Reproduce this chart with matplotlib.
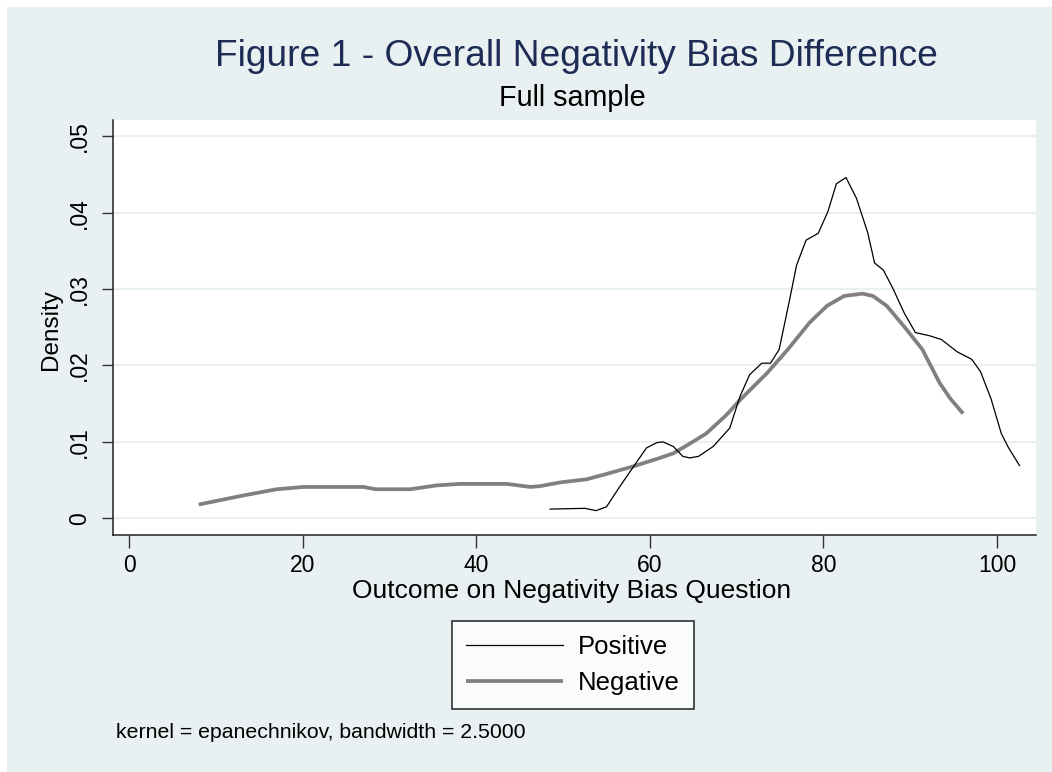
import matplotlib
matplotlib.use("Agg")
import matplotlib.pyplot as plt
from matplotlib.patches import Rectangle

# ---------------- data ----------------
pos_x = [48.5, 52.5, 53.8, 55.0, 56.5, 58.5, 59.6, 60.8, 61.5, 62.7, 63.8, 64.6,
         65.6, 67.3, 69.2, 70.4, 71.5, 72.9, 73.9, 74.9, 76.1, 76.9, 78.0, 79.4,
         80.5, 81.5, 82.6, 83.8, 85.1, 85.9, 86.9, 88.0, 89.3, 90.6, 92.2, 93.6,
         95.4, 97.1, 98.1, 99.3, 100.5, 101.3, 102.6]
pos_y = [0.0012, 0.0013, 0.0010, 0.0015, 0.0041, 0.0074, 0.0092, 0.0099, 0.0100,
         0.0094, 0.0081, 0.0079, 0.0081, 0.0094, 0.0118, 0.0160, 0.0188, 0.0203,
         0.0203, 0.0221, 0.0286, 0.0331, 0.0364, 0.0373, 0.0401, 0.0438, 0.0446,
         0.0419, 0.0374, 0.0334, 0.0325, 0.0301, 0.0269, 0.0243, 0.0239, 0.0234,
         0.0218, 0.0208, 0.0192, 0.0157, 0.0111, 0.0093, 0.0069]

neg_x = [8.0, 13.2, 17.0, 20.1, 27.0, 28.4, 32.4, 35.4, 38.1, 43.5, 46.2, 47.3,
         49.7, 52.7, 55.0, 58.1, 60.9, 62.7, 64.5, 66.5, 68.8, 70.4, 73.5, 75.9,
         78.4, 80.4, 82.4, 84.5, 85.7, 87.3, 89.3, 91.4, 93.4, 94.6, 96.1]
neg_y = [0.0018, 0.0030, 0.0038, 0.0041, 0.0041, 0.0038, 0.0038, 0.0043, 0.0045,
         0.0045, 0.0041, 0.0042, 0.0047, 0.0051, 0.0058, 0.0068, 0.0078, 0.0085,
         0.0097, 0.0111, 0.0135, 0.0155, 0.0190, 0.0221, 0.0256, 0.0278, 0.0291,
         0.0294, 0.0291, 0.0278, 0.0251, 0.0221, 0.0177, 0.0157, 0.0137]

y_ticks = [0, 0.01, 0.02, 0.03, 0.04, 0.05]
y_ticklabels = ["0", ".01", ".02", ".03", ".04", ".05"]
x_ticks = [0, 20, 40, 60, 80, 100]
x_ticklabels = ["0", "20", "40", "60", "80", "100"]
series_labels = ["Positive", "Negative"]

title = "Figure 1 - Overall Negativity Bias Difference"
subtitle = "Full sample"
xlabel = "Outcome on Negativity Bias Question"
ylabel = "Density"
note = "kernel = epanechnikov, bandwidth = 2.5000"

# ---------------- style ----------------
plt.rcParams['font.family'] = ['Liberation Sans', 'DejaVu Sans']
BG = '#e8f0f2'
W, H = 1052, 772

fig = plt.figure(figsize=(W / 100, H / 100), dpi=100, facecolor='white')
fig.patches.append(Rectangle((7 / W, 0), 1 - 7 / W, 1 - 7 / H,
                             transform=fig.transFigure, facecolor=BG,
                             edgecolor='none', zorder=-10))

ax_l, ax_r, ax_t, ax_b = 113, 1036, 120, 535
ax = fig.add_axes([ax_l / W, 1 - ax_b / H, (ax_r - ax_l) / W, (ax_b - ax_t) / H])
ax.set_facecolor('white')

ax.plot(pos_x, pos_y, color='black', lw=0.9, label=series_labels[0], zorder=3)
ax.plot(neg_x, neg_y, color='#808080', lw=2.7, label=series_labels[1],
        solid_capstyle='butt', solid_joinstyle='round', zorder=2)

ax.set_xlim(-1.88, 104.5)
ax.set_ylim(-0.00219, 0.05213)

ax.set_yticks(y_ticks)
ax.set_yticklabels(y_ticklabels, rotation=90, va='center', fontsize=16.5)
ax.set_xticks(x_ticks)
ax.set_xticklabels(x_ticklabels, fontsize=16.5)

ax.grid(axis='y', color=BG, lw=1.6, zorder=0)
ax.grid(axis='x', visible=False)
ax.set_axisbelow(True)

for s in ['top', 'right']:
    ax.spines[s].set_visible(False)
for s in ['left', 'bottom']:
    ax.spines[s].set_color('#222222')
    ax.spines[s].set_linewidth(1.1)

ax.tick_params(axis='y', length=8, width=1.0, color='#333333', pad=8)
ax.tick_params(axis='x', length=9.5, width=1.0, color='#333333', pad=4)

ax.set_xlabel(xlabel, fontsize=19)
ax.xaxis.set_label_coords(0.497, -0.106)
ax.set_ylabel(ylabel, fontsize=17.5)
ax.yaxis.set_label_coords(-0.0553, 0.494)

fig.text(576 / W, 1 - 57 / H, title, fontsize=26.7, color='#1e2b55',
         ha='center', va='center')
fig.text(572.5 / W, 1 - 98 / H, subtitle, fontsize=20.7, color='black',
         ha='center', va='center')
fig.text(116 / W, 1 - 733 / H, note, fontsize=15.3, color='black',
         ha='left', va='center')

leg = fig.legend(loc='center', bbox_to_anchor=(573 / W, 1 - 665 / H),
                 fontsize=18.5, frameon=True, fancybox=False,
                 handlelength=3.75, handletextpad=0.6, labelspacing=0.48,
                 borderpad=0.55)
leg.get_frame().set_edgecolor('black')
leg.get_frame().set_linewidth(1.2)
leg.get_frame().set_facecolor('white')

fig.savefig('out.png', dpi=100, facecolor=fig.get_facecolor())
